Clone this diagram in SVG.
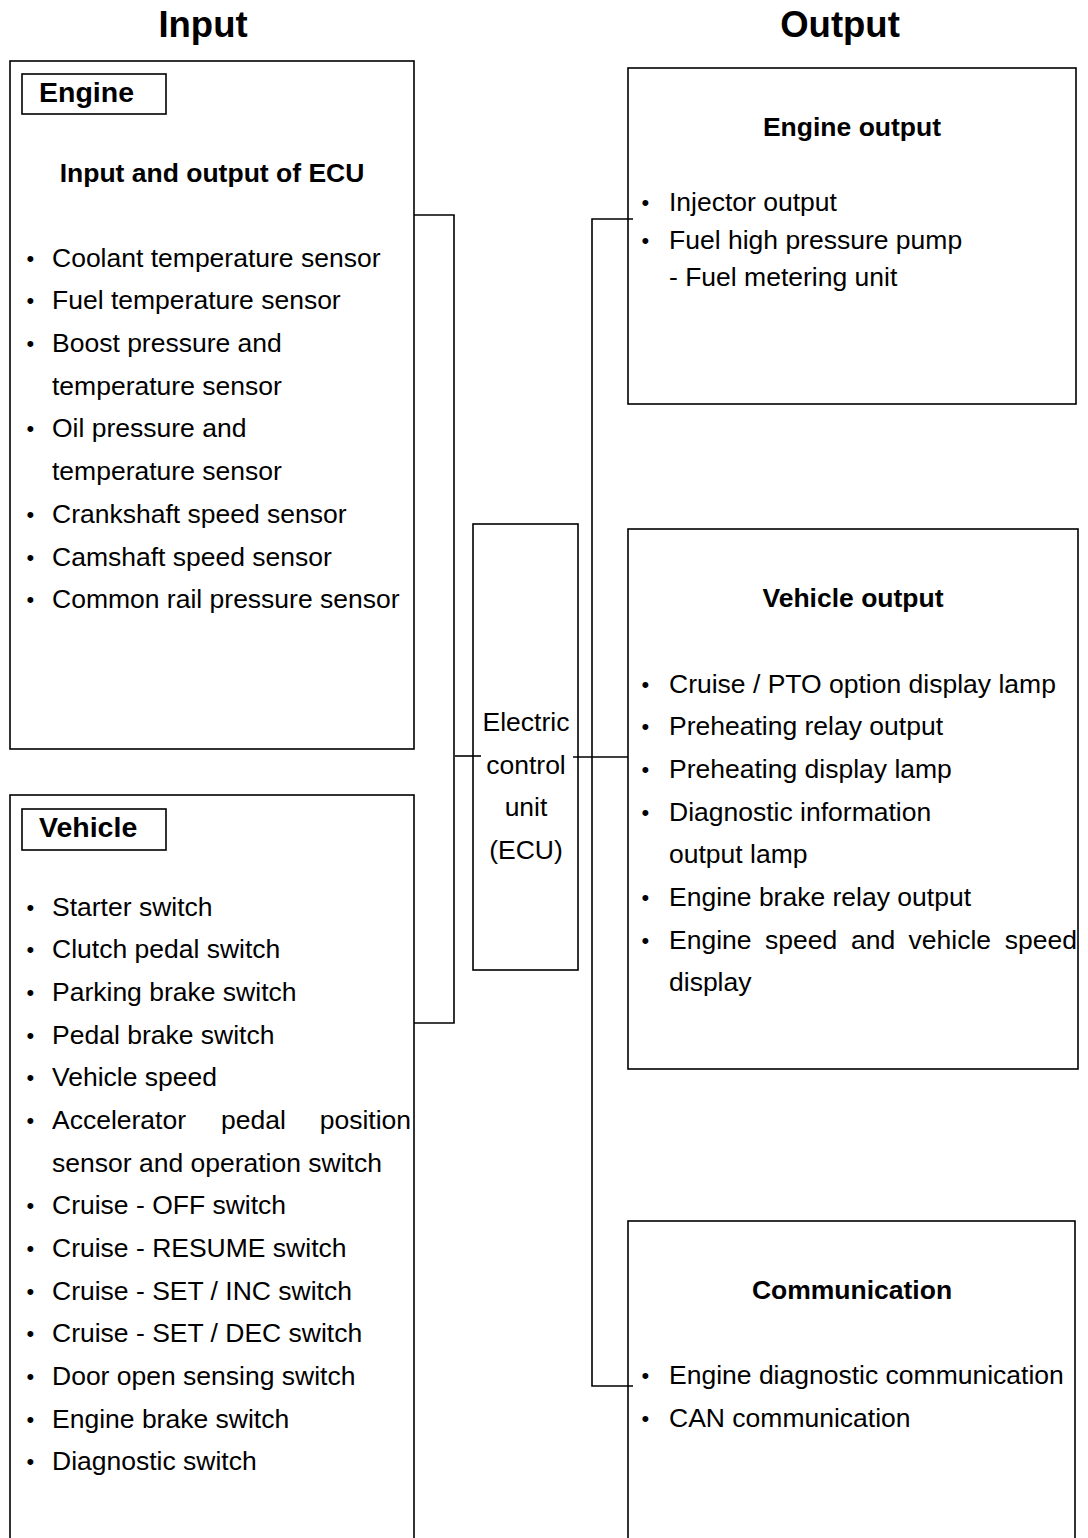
<svg xmlns="http://www.w3.org/2000/svg" width="1088" height="1538" viewBox="0 0 1088 1538">
<style>
.box{fill:none;stroke:#000;stroke-width:1.6}
.ln{fill:none;stroke:#000;stroke-width:1.6}
text{font-family:"Liberation Sans",Arial,sans-serif;fill:#000}
.h{font-size:36.5px;font-weight:bold;text-anchor:middle}
.lab{font-size:28.5px;font-weight:bold}
.t{font-size:26.5px;font-weight:bold;text-anchor:middle}
.b{font-size:26.5px}
.b .d{font-size:22px}
.c{font-size:26.5px;text-anchor:middle}
</style>
<rect width="1088" height="1538" fill="#fff"/>
<text class="h" x="203" y="37">Input</text>
<text class="h" x="840" y="37">Output</text>

<g id="engine-input">
<rect class="box" x="10" y="61" width="404" height="688"/>
<rect class="box" x="22" y="74" width="144" height="40"/>
<text class="lab" x="39" y="102">Engine</text>
<text class="t" x="212" y="182">Input and output of ECU</text>
<g class="b">
<text class="d" x="26.5" y="266">•</text><text x="52" y="267">Coolant temperature sensor</text>
<text class="d" x="26.5" y="308">•</text><text x="52" y="309">Fuel temperature sensor</text>
<text class="d" x="26.5" y="351">•</text><text x="52" y="352">Boost pressure and</text>
<text x="52" y="395">temperature sensor</text>
<text class="d" x="26.5" y="436">•</text><text x="52" y="437">Oil pressure and</text>
<text x="52" y="480">temperature sensor</text>
<text class="d" x="26.5" y="522">•</text><text x="52" y="523">Crankshaft speed sensor</text>
<text class="d" x="26.5" y="565">•</text><text x="52" y="566">Camshaft speed sensor</text>
<text class="d" x="26.5" y="607">•</text><text x="52" y="608">Common rail pressure sensor</text>
</g>
</g>

<g id="vehicle-input">
<rect class="box" x="10" y="795" width="404" height="800"/>
<rect class="box" x="22" y="809" width="144" height="41"/>
<text class="lab" x="39" y="837">Vehicle</text>
<g class="b">
<text class="d" x="26.5" y="915">•</text><text x="52" y="916">Starter switch</text>
<text class="d" x="26.5" y="957">•</text><text x="52" y="958">Clutch pedal switch</text>
<text class="d" x="26.5" y="1000">•</text><text x="52" y="1001">Parking brake switch</text>
<text class="d" x="26.5" y="1043">•</text><text x="52" y="1044">Pedal brake switch</text>
<text class="d" x="26.5" y="1085">•</text><text x="52" y="1086">Vehicle speed</text>
<text class="d" x="26.5" y="1128">•</text><text x="52" y="1129">Accelerator</text><text x="221" y="1129">pedal</text><text x="411" y="1129" text-anchor="end">position</text>
<text x="52" y="1172">sensor and operation switch</text>
<text class="d" x="26.5" y="1213">•</text><text x="52" y="1214">Cruise - OFF switch</text>
<text class="d" x="26.5" y="1256">•</text><text x="52" y="1257">Cruise - RESUME switch</text>
<text class="d" x="26.5" y="1299">•</text><text x="52" y="1300">Cruise - SET / INC switch</text>
<text class="d" x="26.5" y="1341">•</text><text x="52" y="1342">Cruise - SET / DEC switch</text>
<text class="d" x="26.5" y="1384">•</text><text x="52" y="1385">Door open sensing switch</text>
<text class="d" x="26.5" y="1427">•</text><text x="52" y="1428">Engine brake switch</text>
<text class="d" x="26.5" y="1469">•</text><text x="52" y="1470">Diagnostic switch</text>
</g>
</g>

<g id="ecu">
<rect class="box" x="473" y="524" width="105" height="446"/>
<text class="c" x="526" y="731">Electric</text>
<text class="c" x="526" y="774">control</text>
<text class="c" x="526" y="816">unit</text>
<text class="c" x="526" y="859">(ECU)</text>
</g>

<g id="engine-output">
<rect class="box" x="628" y="68" width="448" height="336"/>
<text class="t" x="852" y="136">Engine output</text>
<g class="b">
<text class="d" x="641.5" y="210">•</text><text x="669" y="211">Injector output</text>
<text class="d" x="641.5" y="248">•</text><text x="669" y="249">Fuel high pressure pump</text>
<text x="669" y="286">- Fuel metering unit</text>
</g>
</g>

<g id="vehicle-output">
<rect class="box" x="628" y="529" width="450" height="540"/>
<text class="t" x="853" y="607">Vehicle output</text>
<g class="b">
<text class="d" x="641.5" y="692">•</text><text x="669" y="693">Cruise / PTO option display lamp</text>
<text class="d" x="641.5" y="734">•</text><text x="669" y="735">Preheating relay output</text>
<text class="d" x="641.5" y="777">•</text><text x="669" y="778">Preheating display lamp</text>
<text class="d" x="641.5" y="820">•</text><text x="669" y="821">Diagnostic information</text>
<text x="669" y="863">output lamp</text>
<text class="d" x="641.5" y="905">•</text><text x="669" y="906">Engine brake relay output</text>
<text class="d" x="641.5" y="948">•</text><text x="669" y="949">Engine</text><text x="765" y="949">speed</text><text x="851" y="949">and</text><text x="908.6" y="949">vehicle</text><text x="1077" y="949" text-anchor="end">speed</text>
<text x="669" y="991">display</text>
</g>
</g>

<g id="communication">
<rect class="box" x="628" y="1221" width="447" height="400"/>
<text class="t" x="852" y="1299">Communication</text>
<g class="b">
<text class="d" x="641.5" y="1383">•</text><text x="669" y="1384">Engine diagnostic communication</text>
<text class="d" x="641.5" y="1426">•</text><text x="669" y="1427">CAN communication</text>
</g>
</g>

<g id="connectors">
<path class="ln" d="M414,215 H454 V1023 H414"/>
<path class="ln" d="M455,756 H481"/>
<path class="ln" d="M573,757 H628"/>
<path class="ln" d="M633,219 H592 V1386 H633"/>
</g>
</svg>
